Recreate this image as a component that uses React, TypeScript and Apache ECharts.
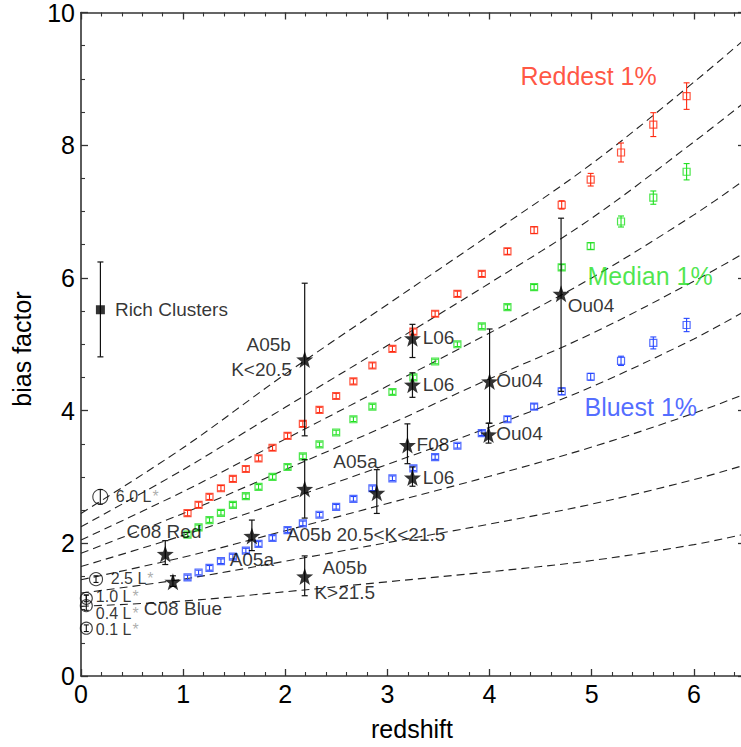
import React, { useEffect, useRef } from "react";
import * as echarts from "echarts";

// ---------- data ----------
const zBins = [1.043, 1.151, 1.258, 1.37, 1.487, 1.614, 1.738, 1.875, 2.022, 2.172, 2.335, 2.498, 2.667, 2.853, 3.049, 3.254, 3.467, 3.685, 3.924, 4.175, 4.436, 4.706, 4.99, 5.287, 5.603, 5.929];
const reddest = [2.455, 2.58, 2.7, 2.83, 2.97, 3.12, 3.28, 3.44, 3.62, 3.8, 4.01, 4.22, 4.44, 4.68, 4.93, 5.19, 5.46, 5.76, 6.06, 6.4, 6.72, 7.1, 7.48, 7.89, 8.31, 8.74];
const reddestErr = [0.04, 0.04, 0.04, 0.04, 0.04, 0.04, 0.04, 0.04, 0.04, 0.04, 0.04, 0.04, 0.04, 0.04, 0.04, 0.04, 0.04, 0.04, 0.04, 0.045, 0.05, 0.063, 0.095, 0.143, 0.18, 0.2];
const median = [2.13, 2.24, 2.35, 2.46, 2.58, 2.71, 2.85, 3.0, 3.15, 3.31, 3.49, 3.67, 3.87, 4.06, 4.28, 4.5, 4.74, 5.0, 5.27, 5.56, 5.86, 6.16, 6.48, 6.85, 7.21, 7.6];
const medianErr = [0.035, 0.035, 0.035, 0.035, 0.035, 0.035, 0.035, 0.035, 0.035, 0.035, 0.035, 0.035, 0.035, 0.035, 0.035, 0.035, 0.035, 0.035, 0.035, 0.035, 0.04, 0.04, 0.05, 0.083, 0.1, 0.123];
const bluest = [1.485, 1.56, 1.63, 1.73, 1.8, 1.89, 1.99, 2.08, 2.2, 2.3, 2.43, 2.55, 2.67, 2.83, 2.98, 3.13, 3.3, 3.47, 3.66, 3.87, 4.06, 4.29, 4.51, 4.75, 5.02, 5.29];
const bluestErr = [0.035, 0.035, 0.035, 0.035, 0.035, 0.035, 0.035, 0.035, 0.035, 0.035, 0.035, 0.035, 0.035, 0.035, 0.035, 0.035, 0.035, 0.035, 0.035, 0.04, 0.04, 0.05, 0.05, 0.07, 0.09, 0.1];

// dashed model curves, sampled at curveZ
const curveZ = [0, 1, 2, 3, 4, 5, 6, 6.5];
const curve1 = [2.45, 3.44, 4.55, 5.6, 6.65, 7.72, 8.95, 9.6];
const curve2 = [2.25, 3.11, 4.05, 4.98, 5.92, 6.9, 8.05, 8.65];
const curve3 = [2.05, 2.78, 3.57, 4.37, 5.17, 6.0, 6.95, 7.48];
const curve4 = [1.85, 2.45, 3.11, 3.78, 4.48, 5.16, 5.95, 6.38];
const curve5 = [1.65, 2.12, 2.65, 3.19, 3.75, 4.36, 5.08, 5.5];
const curve6 = [1.45, 1.79, 2.19, 2.6, 3.01, 3.45, 3.96, 4.25];
const curve7 = [1.25, 1.46, 1.73, 2.01, 2.29, 2.59, 2.96, 3.18];
const curve8 = [1.05, 1.13, 1.27, 1.42, 1.57, 1.74, 1.98, 2.14];

// observations (stars)
const obsZ = [0.825, 0.9, 1.673, 2.19, 2.19, 2.19, 2.896, 3.196, 3.245, 3.245, 3.245, 3.99, 4.0, 4.7];
const obsB = [1.84, 1.42, 2.11, 2.82, 4.77, 1.5, 2.76, 3.48, 2.99, 4.39, 5.09, 3.64, 4.44, 5.76];
const obsLo = [1.68, 1.35, 1.89, 2.38, 3.62, 1.21, 2.45, 3.2, 2.86, 4.2, 4.8, 3.51, 3.81, 4.29];
const obsHi = [2.04, 1.51, 2.35, 3.26, 5.92, 1.81, 3.11, 3.8, 3.15, 4.57, 5.3, 3.81, 5.23, 6.9];

// rich clusters
const clusterZ = [0.19];
const clusterB = [5.52];
const clusterLo = [4.81];
const clusterHi = [6.24];

// local galaxies by luminosity
const lumZ = [0.189, 0.147, 0.052, 0.052, 0.052];
const lumB = [2.7, 1.46, 1.17, 1.06, 0.72];
const lumLo = [2.59, 1.41, 1.12, 0.99, 0.67];
const lumHi = [2.81, 1.51, 1.22, 1.22, 0.77];
const lumSize = [15, 13, 12, 12, 12];
const lumText = ["6.0 L", "2.5 L", "1.0 L", "0.4 L", "0.1 L"];
const lumTextZ = [0.346, 0.296, 0.15, 0.15, 0.15];
const lumTextB = [2.7, 1.465, 1.19, 0.94, 0.69];

// annotation labels
const noteText = ["Rich Clusters", "A05b", "K<20.5", "L06", "L06", "F08", "L06", "A05a", "Ou04", "Ou04", "Ou04", "C08 Red", "A05b 20.5<K<21.5", "A05a", "C08 Blue", "A05b", "K>21.5"];
const noteZ = [0.337, 2.06, 2.07, 3.35, 3.35, 3.29, 3.35, 2.91, 4.77, 4.07, 4.07, 0.45, 2.02, 1.46, 0.62, 2.37, 2.29];
const noteB = [5.52, 4.99, 4.61, 5.1, 4.39, 3.48, 2.99, 3.23, 5.58, 4.45, 3.65, 2.17, 2.13, 1.75, 1.01, 1.63, 1.25];
const noteAlign = ["left", "right", "right", "left", "left", "left", "left", "right", "left", "left", "left", "left", "left", "left", "left", "left", "left"];

const groupText = ["Reddest 1%", "Median 1%", "Bluest 1%"];
const groupZ = [4.308, 4.964, 4.934];
const groupB = [9.03, 6.02, 4.04];

const RED = "#ff2a10";
const GREEN = "#1fe01f";
const BLUE = "#2646ff";
const FONT = "Liberation Sans, Arial, Helvetica, sans-serif";
const STAR = "path://M0,-10L2.35,-3.24L9.51,-3.09L3.8,1.24L5.88,8.09L0,4L-5.88,8.09L-3.8,1.24L-9.51,-3.09L-2.35,-3.24Z";

function errorBars(z: number[], lo: number[], hi: number[], color: string, cap: number, width: number, zlevel = 5) {
  return {
    type: "custom",
    coordinateSystem: "cartesian2d",
    xAxisIndex: 0,
    yAxisIndex: 0,
    silent: true,
    z: zlevel,
    clip: false,
    encode: { x: 0, y: [1, 2] },
    data: z.map((v, i) => [v, lo[i], hi[i]]),
    renderItem: (params: any, api: any) => {
      const x = api.value(0);
      const p1 = api.coord([x, api.value(1)]);
      const p2 = api.coord([x, api.value(2)]);
      const st = { stroke: color, lineWidth: width };
      return {
        type: "group",
        children: [
          { type: "line", shape: { x1: p1[0], y1: p1[1], x2: p2[0], y2: p2[1] }, style: st },
          { type: "line", shape: { x1: p1[0] - cap, y1: p1[1], x2: p1[0] + cap, y2: p1[1] }, style: st },
          { type: "line", shape: { x1: p2[0] - cap, y1: p2[1], x2: p2[0] + cap, y2: p2[1] }, style: st },
        ],
      };
    },
  };
}

function squares(z: number[], b: number[], color: string) {
  return {
    type: "scatter",
    xAxisIndex: 0,
    yAxisIndex: 0,
    symbol: "rect",
    symbolSize: 7,
    z: 6,
    silent: true,
    itemStyle: { color: "rgba(0,0,0,0)", borderColor: color, borderWidth: 1.2 },
    data: z.map((v, i) => [v, b[i]]),
  };
}

export default function App() {
  const ref = useRef<HTMLDivElement>(null);
  useEffect(() => {
    if (!ref.current) return;
    const chart = echarts.init(ref.current, null, { renderer: "svg" });
    const axisColor = "#333";
    const xBase = {
      type: "value",
      min: 0,
      max: 7,
      interval: 1,
      axisLine: { show: true, onZero: false, lineStyle: { color: axisColor, width: 1.6 } },
      axisTick: { show: true, inside: true, length: 7, lineStyle: { color: axisColor, width: 1.3 } },
      minorTick: { show: true, splitNumber: 5, length: 4, lineStyle: { color: axisColor, width: 1.1 } },
      splitLine: { show: false },
      minorSplitLine: { show: false },
    };
    const yBase = {
      type: "value",
      min: 0,
      max: 10,
      interval: 2,
      axisLine: { show: true, onZero: false, lineStyle: { color: axisColor, width: 1.6 } },
      axisTick: { show: true, inside: true, length: 7, lineStyle: { color: axisColor, width: 1.3 } },
      minorTick: { show: true, splitNumber: 4, length: 4, lineStyle: { color: axisColor, width: 1.1 } },
      splitLine: { show: false },
      minorSplitLine: { show: false },
    };
    const curves = [curve1, curve2, curve3, curve4, curve5, curve6, curve7, curve8];
    const series: any[] = [];
    curves.forEach((c) => {
      series.push({
        type: "line",
        xAxisIndex: 0,
        yAxisIndex: 0,
        smooth: 0.35,
        symbol: "none",
        silent: true,
        z: 2,
        lineStyle: { color: "#222", width: 1.1, type: [8, 5] },
        data: curveZ.map((z, i) => [z, c[i]]),
      });
    });
    series.push(errorBars(zBins, reddest.map((v, i) => v - reddestErr[i]), reddest.map((v, i) => v + reddestErr[i]), RED, 3, 1.1));
    series.push(errorBars(zBins, median.map((v, i) => v - medianErr[i]), median.map((v, i) => v + medianErr[i]), GREEN, 3, 1.1));
    series.push(errorBars(zBins, bluest.map((v, i) => v - bluestErr[i]), bluest.map((v, i) => v + bluestErr[i]), BLUE, 3, 1.1));
    series.push(squares(zBins, reddest, RED));
    series.push(squares(zBins, median, GREEN));
    series.push(squares(zBins, bluest, BLUE));
    // observations
    series.push(errorBars(obsZ, obsLo, obsHi, "#111", 3, 1.2, 7));
    series.push({
      type: "scatter",
      xAxisIndex: 0,
      yAxisIndex: 0,
      symbol: STAR,
      symbolSize: 17,
      z: 8,
      silent: true,
      itemStyle: { color: "#000" },
      data: obsZ.map((v, i) => [v, obsB[i]]),
    });
    // clusters
    series.push(errorBars(clusterZ, clusterLo, clusterHi, "#111", 3, 1.2, 7));
    series.push({
      type: "scatter",
      xAxisIndex: 0,
      yAxisIndex: 0,
      symbol: "rect",
      symbolSize: 9,
      z: 8,
      silent: true,
      itemStyle: { color: "#000" },
      data: clusterZ.map((v, i) => [v, clusterB[i]]),
    });
    // local luminosity circles
    series.push(errorBars(lumZ, lumLo, lumHi, "#111", 2.5, 1.1, 7));
    series.push({
      type: "scatter",
      xAxisIndex: 0,
      yAxisIndex: 0,
      symbol: "circle",
      z: 8,
      silent: true,
      clip: false,
      itemStyle: { color: "rgba(0,0,0,0)", borderColor: "#111", borderWidth: 1.1 },
      data: lumZ.map((v, i) => ({ value: [v, lumB[i]], symbolSize: lumSize[i] })),
    });
    // text labels
    series.push({
      type: "scatter",
      xAxisIndex: 0,
      yAxisIndex: 0,
      symbolSize: 1,
      z: 10,
      silent: true,
      clip: false,
      itemStyle: { color: "rgba(0,0,0,0)" },
      label: { show: true, position: [0, 0], verticalAlign: "middle", color: "#000", fontSize: 19, fontFamily: FONT },
      data: noteText.map((t, i) => ({
        value: [noteZ[i], noteB[i]],
        label: { formatter: t, align: noteAlign[i] },
      })),
    });
    series.push({
      type: "scatter",
      xAxisIndex: 0,
      yAxisIndex: 0,
      symbolSize: 1,
      z: 10,
      silent: true,
      clip: false,
      itemStyle: { color: "rgba(0,0,0,0)" },
      label: {
        show: true,
        position: [0, 0],
        align: "left",
        verticalAlign: "middle",
        fontFamily: FONT,
        rich: {
          a: { fontSize: 16, lineHeight: 14, color: "#000", fontFamily: FONT },
          s: { fontSize: 16, lineHeight: 14, color: "#999", fontFamily: FONT, padding: [0, 0, 0, 1] },
        },
      },
      data: lumText.map((t, i) => ({
        value: [lumTextZ[i], lumTextB[i]],
        label: { formatter: "{a|" + t + "}{s|*}" },
      })),
    });
    const groupColors = [RED, GREEN, BLUE];
    series.push({
      type: "scatter",
      xAxisIndex: 0,
      yAxisIndex: 0,
      symbolSize: 1,
      z: 10,
      silent: true,
      itemStyle: { color: "rgba(0,0,0,0)" },
      label: { show: true, position: [0, 0], align: "left", verticalAlign: "middle", fontSize: 25, fontFamily: FONT },
      data: groupText.map((t, i) => ({
        value: [groupZ[i], groupB[i]],
        label: { formatter: t, color: groupColors[i] },
      })),
    });

    chart.setOption({
      animation: false,
      backgroundColor: "#fff",
      textStyle: { fontFamily: FONT },
      grid: { left: 81, top: 12, width: 715, height: 664, containLabel: false },
      xAxis: [
        {
          ...xBase,
          position: "bottom",
          axisLabel: { show: true, fontSize: 25, color: "#000", margin: 5, showMaxLabel: false, fontFamily: FONT },
        },
        { ...xBase, position: "top", axisLabel: { show: false } },
      ],
      yAxis: [
        {
          ...yBase,
          position: "left",
          axisLabel: { show: true, fontSize: 25, color: "#000", margin: 6, fontFamily: FONT },
        },
        { ...yBase, position: "right", offset: -51, axisLabel: { show: false } },
      ],
      graphic: [
        { type: "text", x: 412, y: 729, style: { text: "redshift", fontSize: 25, fill: "#000", align: "center", verticalAlign: "middle", fontFamily: FONT } },
        { type: "text", x: 22, y: 349, rotation: Math.PI / 2, style: { text: "bias factor", fontSize: 25, fill: "#000", align: "center", verticalAlign: "middle", fontFamily: FONT } },
      ],
      series,
    });
    return () => chart.dispose();
  }, []);
  return <div ref={ref} style={{ position: "fixed", left: 0, top: 0, width: 800, height: 747 }} />;
}
